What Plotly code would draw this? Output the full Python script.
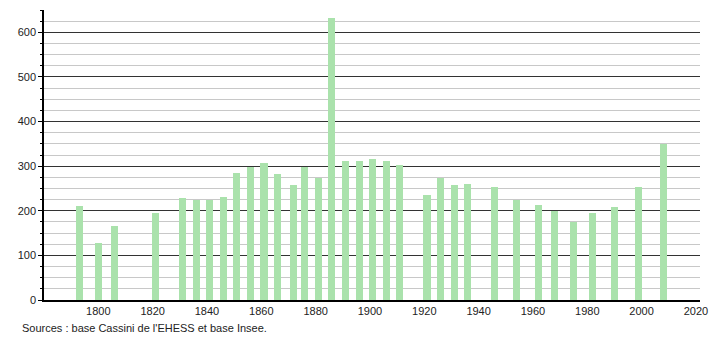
import plotly.graph_objects as go

years = [1793, 1800, 1806, 1821, 1831, 1836, 1841, 1846, 1851, 1856, 1861, 1866,
         1872, 1876, 1881, 1886, 1891, 1896, 1901, 1906, 1911, 1921, 1926, 1931,
         1936, 1946, 1954, 1962, 1968, 1975, 1982, 1990, 1999, 2008]
population = [211, 128, 166, 194, 229, 225, 225, 231, 284, 297, 306, 283,
              258, 299, 273, 631, 312, 312, 315, 312, 302, 236, 273, 258,
              261, 254, 225, 213, 200, 175, 195, 209, 254, 350]
x_ticks = [1800, 1820, 1840, 1860, 1880, 1900, 1920, 1940, 1960, 1980, 2000, 2020]
y_ticks = [0, 100, 200, 300, 400, 500, 600]
source_text = "Sources : base Cassini de l'EHESS et base Insee."

fig = go.Figure()
fig.add_trace(go.Bar(
    x=years, y=population,
    width=2.6,
    marker=dict(color="rgb(170,226,172)", line=dict(width=0)),
    hoverinfo="x+y",
))

fig.update_layout(
    width=710, height=340,
    margin=dict(l=44, r=10, t=10, b=40, autoexpand=False),
    paper_bgcolor="white", plot_bgcolor="white",
    font=dict(family="Liberation Sans, Arial, sans-serif", size=11, color="#222"),
    showlegend=False,
    bargap=0,
)
fig.update_xaxes(
    range=[1780, 2021.5],
    automargin=False,
    tickvals=x_ticks,
    ticktext=[str(t) for t in x_ticks],
    showgrid=False, zeroline=False,
    showline=True, linecolor="black", linewidth=1.5,
    ticks="", ticklen=0,
    tickfont=dict(size=11, color="#222"),
)
fig.update_yaxes(
    range=[0, 650],
    automargin=False,
    tickvals=y_ticks,
    showgrid=True, gridcolor="#333", gridwidth=1,
    zeroline=False,
    showline=True, linecolor="black", linewidth=1.5,
    ticks="outside", ticklen=4, tickcolor="black",
    tickfont=dict(size=11, color="#222"),
    minor=dict(dtick=25, showgrid=True, gridcolor="#c8c8c8", gridwidth=1,
               ticks="outside", ticklen=2, tickcolor="black"),
)
fig.add_annotation(
    text=source_text, xref="paper", yref="paper",
    x=(20 - 44) / 656, y=-28 / 290, xanchor="left", yanchor="middle",
    showarrow=False, font=dict(size=11, color="#222"),
)

fig.write_html("out.html")
